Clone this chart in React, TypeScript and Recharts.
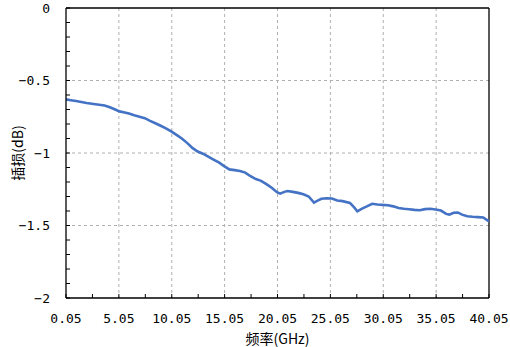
import React from 'react';
import { LineChart, Line, XAxis, YAxis, CartesianGrid, ReferenceLine } from 'recharts';

const freqGHz = [
  0.05, 0.5, 1.0, 1.5, 2.0, 2.5, 3.0, 3.7, 4.2, 4.7, 5.1, 5.6, 6.0, 6.5, 7.0, 7.5, 8.0, 8.5, 9.0, 9.5,
  10.0, 10.5, 11.0, 11.5, 12.0, 12.5, 13.0, 13.5, 14.0, 14.5, 15.0, 15.5, 16.0, 16.5, 17.0, 17.5, 18.0,
  18.5, 19.0, 19.5, 20.0, 20.3, 20.7, 21.0, 21.5, 22.0, 22.5, 23.0, 23.5, 23.8, 24.2, 24.7, 25.2, 25.7,
  26.2, 26.9, 27.3, 27.6, 28.0, 28.5, 29.0, 29.5, 30.0, 30.5, 31.0, 31.5, 32.0, 32.5, 33.0, 33.5, 34.0,
  34.5, 35.0, 35.5, 36.0, 36.3, 36.7, 37.1, 37.5, 38.0, 38.5, 39.0, 39.5, 40.05,
];
const insertionLossDb = [
  -0.63, -0.636, -0.642, -0.648, -0.655, -0.66, -0.665, -0.672, -0.685, -0.7, -0.713, -0.72, -0.728,
  -0.74, -0.75, -0.76, -0.778, -0.795, -0.812, -0.83, -0.851, -0.875, -0.9, -0.93, -0.965, -0.99, -1.005,
  -1.025, -1.045, -1.065, -1.09, -1.113, -1.118, -1.124, -1.135, -1.16, -1.18, -1.192, -1.215, -1.24,
  -1.27, -1.28, -1.268, -1.262, -1.268, -1.275, -1.285, -1.3, -1.342, -1.33, -1.316, -1.312, -1.314,
  -1.328, -1.332, -1.344, -1.375, -1.402, -1.385, -1.368, -1.35, -1.355, -1.358, -1.36, -1.368, -1.38,
  -1.385, -1.388, -1.392, -1.395, -1.387, -1.385, -1.39, -1.397, -1.42, -1.425, -1.412, -1.41, -1.425,
  -1.436, -1.44, -1.442, -1.445, -1.472,
];
const xTicks = [0.05, 5.05, 10.05, 15.05, 20.05, 25.05, 30.05, 35.05, 40.05];
const xMinorTicks = [0.05, 2.55, 5.05, 7.55, 10.05, 12.55, 15.05, 17.55, 20.05, 22.55, 25.05, 27.55, 30.05, 32.55, 35.05, 37.55, 40.05];
const yTicks = [-2, -1.5, -1, -0.5, 0];
const yMinorTicks = [-2, -1.9, -1.8, -1.7, -1.6, -1.5, -1.4, -1.3, -1.2, -1.1, -1, -0.9, -0.8, -0.7, -0.6, -0.5, -0.4, -0.3, -0.2, -0.1, 0];

const data = freqGHz.map((f, i) => ({ f, il: insertionLossDb[i] }));

const numFont = 'DejaVu Sans Mono';
const cjkFont = '"Noto Sans CJK SC"';

const fmtY = (v: number) => (v === 0 ? '0' : String(v).replace('-', '\u2212'));
const fmtX = (v: number) => v.toFixed(2);
const blank = () => '';

export default function App() {
  return (
    <div style={{ position: 'absolute', left: 0, top: 0, width: 510, height: 347, background: '#fff' }}>
      <LineChart width={510} height={347} data={data} margin={{ top: 8, right: 21, left: 0, bottom: 0 }}>
        <CartesianGrid
          xAxisId="main"
          yAxisId="main"
          stroke="#b0b0b0"
          strokeDasharray="3 3"
          verticalValues={xTicks.slice(1, -1)}
          horizontalValues={yTicks.slice(1, -1)}
        />
        <XAxis
          xAxisId="main"
          dataKey="f"
          type="number"
          domain={[0.05, 40.05]}
          ticks={xTicks}
          tickFormatter={fmtX}
          allowDataOverflow
          height={49}
          tickLine={false}
          axisLine={{ stroke: '#000', strokeWidth: 1.3 }}
          tickMargin={10}
          tick={{ fill: '#000', fontSize: 13, fontFamily: numFont }}
          label={{ value: '频率(GHz)', position: 'insideBottom', offset: 3, fill: '#000', fontSize: 14, fontFamily: cjkFont }}
        />
        <XAxis
          xAxisId="minor"
          dataKey="f"
          type="number"
          domain={[0.05, 40.05]}
          ticks={xMinorTicks}
          tickFormatter={blank}
          allowDataOverflow
          mirror
          height={20}
          axisLine={false}
          tickLine={{ stroke: '#000', strokeWidth: 1 }}
          tickSize={4}
        />
        <YAxis
          yAxisId="main"
          type="number"
          domain={[-2, 0]}
          ticks={yTicks}
          tickFormatter={fmtY}
          allowDataOverflow
          width={66}
          tickLine={false}
          axisLine={{ stroke: '#000', strokeWidth: 1.3 }}
          tickMargin={10}
          tick={{ fill: '#000', fontSize: 13, fontFamily: numFont }}
          label={{ value: '插损(dB)', angle: -90, position: 'insideLeft', offset: 18, textAnchor: 'middle', fill: '#000', fontSize: 14, fontFamily: cjkFont }}
        />
        <YAxis
          yAxisId="minor"
          type="number"
          domain={[-2, 0]}
          ticks={yMinorTicks}
          tickFormatter={blank}
          allowDataOverflow
          mirror
          width={20}
          axisLine={false}
          tickLine={{ stroke: '#000', strokeWidth: 1 }}
          tickSize={4}
        />
        <ReferenceLine xAxisId="main" yAxisId="main" y={0} stroke="#000" strokeWidth={1.3} />
        <ReferenceLine xAxisId="main" yAxisId="main" x={40.05} stroke="#000" strokeWidth={1.3} />
        <Line
          xAxisId="main"
          yAxisId="main"
          dataKey="il"
          stroke="#4472C4"
          strokeWidth={2.6}
          dot={false}
          isAnimationActive={false}
        />
      </LineChart>
    </div>
  );
}
